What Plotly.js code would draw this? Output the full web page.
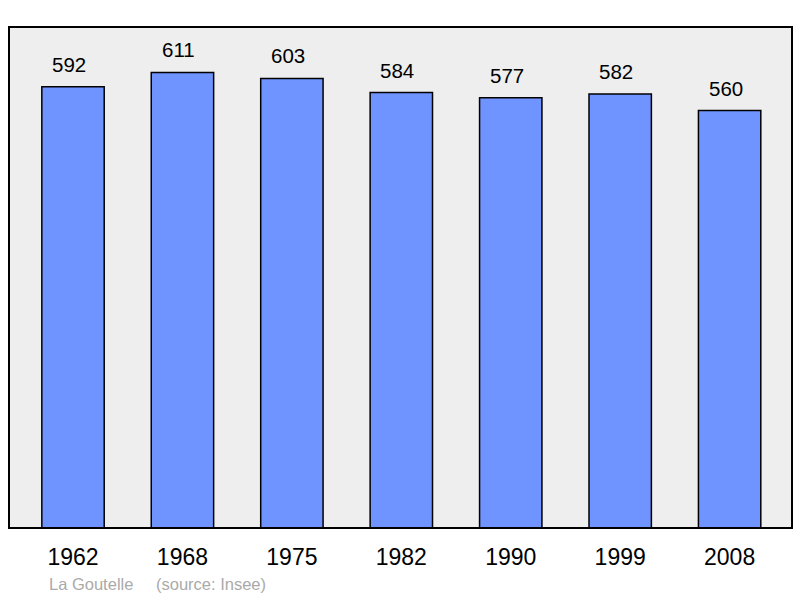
<!DOCTYPE html>
<html>
<head>
<meta charset="utf-8">
<script src="https://cdn.plot.ly/plotly-3.0.1.min.js"></script>
<style>
  body { margin: 0; background: #fff; }
  #chart { width: 800px; height: 598px; }
</style>
</head>
<body>
<div id="chart"></div>
<script>
// population by census year
var years = ["1962", "1968", "1975", "1982", "1990", "1999", "2008"];
var population = [592, 611, 603, 584, 577, 582, 560];
var town = "La Goutelle";
var source = "(source: Insee)";

var bar_trace = {
    x: years,
    y: population,
    type: 'bar',
    width: 0.57,
    marker: {
        color: '#7094ff',
        line: { color: '#000000', width: 1.5 }
    },
    hoverinfo: 'x+y'
}

// value labels above each bar (x as category index, the year strings look numeric)
var labels = []
for (let i = 0; i < years.length; i++) {
    labels.push({
        x: i,
        y: population[i],
        text: String(population[i]),
        showarrow: false,
        xanchor: 'center',
        yanchor: 'bottom',
        xshift: -4,
        yshift: 9,
        font: { size: 20.5, color: '#000000' }
    })
}

// footer, positions in px from the left of the plot area (783 px wide)
labels.push({
    xref: 'paper', yref: 'paper',
    x: (47 - 9) / 783, y: 0,
    xanchor: 'left', yanchor: 'top',
    yshift: -45,
    text: town,
    showarrow: false,
    font: { size: 16.5, color: '#aaaaaa' }
})
labels.push({
    xref: 'paper', yref: 'paper',
    x: (154 - 9) / 783, y: 0,
    xanchor: 'left', yanchor: 'top',
    yshift: -45,
    text: source,
    showarrow: false,
    font: { size: 16.5, color: '#aaaaaa' }
})

var layout = {
    width: 800,
    height: 598,
    margin: { l: 9, r: 8, t: 27, b: 70 },
    paper_bgcolor: '#ffffff',
    plot_bgcolor: '#eeeeee',
    font: { family: 'Liberation Sans, Arial, sans-serif', color: '#000000' },
    showlegend: false,
    xaxis: {
        type: 'category',
        range: [-0.585, 6.57],
        showgrid: false,
        zeroline: false,
        showline: false,
        ticks: '',
        ticklabelstandoff: 13,
        tickfont: { size: 23, color: '#000000' }
    },
    yaxis: {
        range: [0, 672],
        showgrid: false,
        zeroline: false,
        showticklabels: false,
        ticks: ''
    },
    shapes: [{
        type: 'rect',
        xref: 'paper', yref: 'paper',
        x0: 0, x1: 1, y0: 0, y1: 1,
        line: { color: '#000000', width: 2 },
        layer: 'above'
    }],
    annotations: labels
};

Plotly.newPlot('chart', [bar_trace], layout, { staticPlot: true, responsive: false });
</script>
</body>
</html>
